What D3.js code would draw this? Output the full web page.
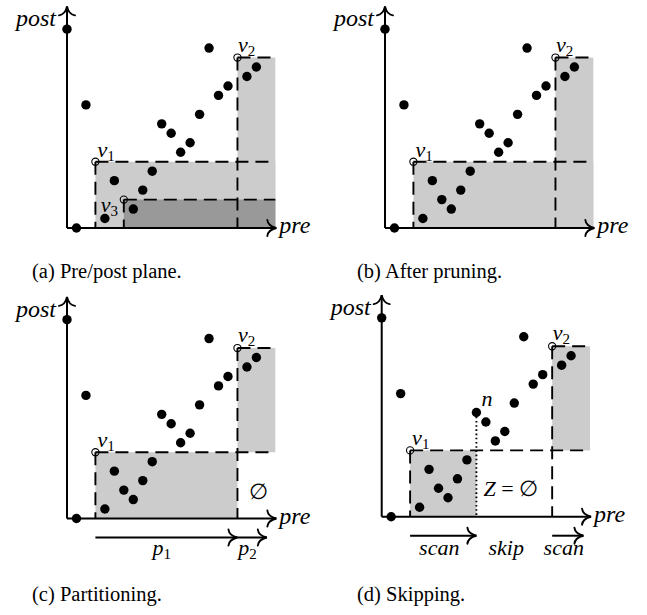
<!DOCTYPE html>
<html>
<head>
<meta charset="utf-8">
<script src="https://cdn.jsdelivr.net/npm/d3@7"></script>
<style>
  body { margin: 0; background: #fff; }
</style>
</head>
<body>
<svg id="chart" width="647" height="615" font-family="'Liberation Serif', 'Times New Roman', Times, serif"></svg>
<script>
// tree nodes in the pre/post plane
const preVals  = [0, 1, 2, 3, 4, 5, 6, 7, 8, 9, 10, 11, 12, 13, 14, 15, 16, 17, 18, 19, 20];
const postVals = [21, 0, 13, 7, 1, 5, 3, 2, 4, 6, 11, 10, 8, 9, 12, 19, 14, 15, 18, 16, 17];

// special nodes (index into the arrays above)
const V1 = 3, V2 = 18, V3 = 6, N = 10;

const captions = ["(a) Pre/post plane.", "(b) After pruning.", "(c) Partitioning.", "(d) Skipping."];

const PRE_MAX = 22, POST_MAX = 23.4;
const step = 9.47;
const SERIF = "'Liberation Serif', 'Times New Roman', Times, serif";

const svg = d3.select("#chart");

// panel origins (axis corner) in page pixels
const panels = [
  {id: "a", ox: 67,    oy: 228,   cap: [32, 278]},
  {id: "b", ox: 385,   oy: 228,   cap: [357, 278]},
  {id: "c", ox: 67,    oy: 518.5, cap: [32, 601]},
  {id: "d", ox: 381.7, oy: 516.7, cap: [357, 601]}
];

// latex style "to" arrow head, tip at 0,0 pointing right
const headPath = "M-9,-8 C-8.5,-3 -3,-0.7 0,0 C-3,0.7 -8.5,3 -9,8";

function arrowHead(g, x, y, angle) {
  g.append("path")
    .attr("d", headPath)
    .attr("transform", "translate(" + x + "," + y + ") rotate(" + angle + ")")
    .attr("fill", "none")
    .attr("stroke", "#000")
    .attr("stroke-width", 1.9)
    .attr("stroke-linecap", "round");
}

function mathText(g, x, y, s, size) {
  return g.append("text")
    .attr("x", x).attr("y", y)
    .attr("font-family", SERIF)
    .attr("font-style", "italic")
    .attr("font-size", size || 22)
    .text(s);
}

function subLabel(g, x, y, main, sub, size) {
  let t = g.append("text").attr("x", x).attr("y", y)
    .attr("font-family", SERIF)
    .attr("font-size", size || 22);
  t.append("tspan").attr("font-style", "italic").text(main);
  t.append("tspan").attr("font-size", 15).attr("dy", 4).text(sub);
}

panels.forEach((p) => {
  let g = svg.append("g");
  let x = d3.scaleLinear().domain([0, PRE_MAX]).range([p.ox, p.ox + PRE_MAX * step]);
  let y = d3.scaleLinear().domain([0, PRE_MAX]).range([p.oy, p.oy - PRE_MAX * step]);

  let pre = (i) => x(preVals[i]);
  let post = (i) => y(postVals[i]);

  // shaded regions: [pre0, pre1, post0, post1, colour]
  let rects = [];
  if (p.id == "a" || p.id == "b") {
    rects.push([preVals[V1], PRE_MAX, 0, postVals[V1], "#cccccc"]);
    rects.push([preVals[V2], PRE_MAX, 0, postVals[V2], "#cccccc"]);
    if (p.id == "a") rects.push([preVals[V3], PRE_MAX, 0, postVals[V3], "#999999"]);
  } else if (p.id == "c") {
    rects.push([preVals[V1], preVals[V2], 0, postVals[V1], "#cccccc"]);
    rects.push([preVals[V2], PRE_MAX, postVals[V1], postVals[V2], "#cccccc"]);
  } else {
    rects.push([preVals[V1], preVals[N], 0, postVals[V1], "#cccccc"]);
    rects.push([preVals[V2], PRE_MAX, postVals[V1], postVals[V2], "#cccccc"]);
  }
  g.selectAll("rect.shade")
    .data(rects)
    .enter().append("rect")
    .attr("class", "shade")
    .attr("x", (d) => x(d[0]))
    .attr("width", (d) => x(d[1]) - x(d[0]))
    .attr("y", (d) => y(d[3]))
    .attr("height", (d) => y(d[2]) - y(d[3]))
    .attr("fill", (d) => d[4]);

  // dashed query lines from each context node
  let ctx = p.id == "a" ? [V1, V2, V3] : [V1, V2];
  let lines = [];
  ctx.forEach((i) => {
    lines.push([preVals[i], postVals[i], PRE_MAX, postVals[i]]);
    lines.push([preVals[i], postVals[i], preVals[i], 0]);
  });
  g.selectAll("line.dash")
    .data(lines)
    .enter().append("line")
    .attr("class", "dash")
    .attr("x1", (d) => x(d[0])).attr("y1", (d) => y(d[1]))
    .attr("x2", (d) => x(d[2])).attr("y2", (d) => y(d[3]))
    .attr("stroke", "#000")
    .attr("stroke-width", 1.9)
    .attr("stroke-dasharray", "13,7");

  if (p.id == "d") {
    g.append("line")
      .attr("x1", pre(N)).attr("y1", post(N))
      .attr("x2", pre(N)).attr("y2", y(0))
      .attr("stroke", "#000")
      .attr("stroke-width", 1.9)
      .attr("stroke-dasharray", "1.6,2.6");
  }

  // axes
  g.append("line")
    .attr("x1", x(0)).attr("y1", y(0))
    .attr("x2", x(PRE_MAX) + 1).attr("y2", y(0))
    .attr("stroke", "#000").attr("stroke-width", 2);
  g.append("line")
    .attr("x1", x(0)).attr("y1", y(0))
    .attr("x2", x(0)).attr("y2", y(POST_MAX))
    .attr("stroke", "#000").attr("stroke-width", 2);
  arrowHead(g, x(PRE_MAX) + 1, y(0), 0);
  arrowHead(g, x(0), y(POST_MAX), -90);

  mathText(g, x(0) - 11, y(POST_MAX) + 20, "post", 24).attr("text-anchor", "end");
  mathText(g, x(PRE_MAX) + 4, y(0) + 5, "pre", 24);

  // nodes
  let open = p.id == "a" ? [V1, V2, V3] : [V1, V2];
  g.selectAll("circle.node")
    .data(preVals.map((d, i) => i))
    .enter().append("circle")
    .attr("class", "node")
    .attr("cx", (i) => pre(i))
    .attr("cy", (i) => post(i))
    .attr("r", (i) => open.includes(i) ? 3.6 : 4.7)
    .attr("fill", (i) => open.includes(i) ? "none" : "#000")
    .attr("stroke", "#000")
    .attr("stroke-width", (i) => open.includes(i) ? 1.1 : 0);

  subLabel(g, pre(V1) + 2, post(V1) - 5, "v", "1");
  subLabel(g, pre(V2) + 0.5, post(V2) - 6, "v", "2");
  if (p.id == "a") subLabel(g, pre(V3) - 23, post(V3) + 12, "v", "3");

  if (p.id == "c") {
    g.append("text")
      .attr("x", x(preVals[V2]) + 21).attr("y", y(0) - 20)
      .attr("text-anchor", "middle")
      .attr("font-family", SERIF).attr("font-size", 22)
      .text("\u2205");
    // partition arrows
    let parts = [[preVals[V1], preVals[V2], "p", "1"], [preVals[V2], 21.1, "p", "2"]];
    parts.forEach((d) => {
      let ay = y(0) + 19;
      g.append("line")
        .attr("x1", x(d[0])).attr("y1", ay)
        .attr("x2", x(d[1])).attr("y2", ay)
        .attr("stroke", "#000").attr("stroke-width", 2);
      arrowHead(g, x(d[1]), ay, 0);
      let cx = (x(d[0]) + x(d[1])) / 2 - 14;
      subLabel(g, cx, y(0) + 36, d[2], d[3]);
    });
  }

  if (p.id == "d") {
    mathText(g, pre(N) + 5, post(N) - 7, "n", 22);
    let t = g.append("text")
      .attr("x", pre(N) + 7).attr("y", y(0) - 21)
      .attr("font-family", SERIF)
      .attr("font-size", 22);
    t.append("tspan").attr("font-style", "italic").text("Z");
    t.append("tspan").text(" = \u2205");

    let ay = y(0) + 19;
    let scans = [[preVals[V1], preVals[N], "scan"], [preVals[V2], 21.3, "scan"]];
    scans.forEach((d) => {
      g.append("line")
        .attr("x1", x(d[0])).attr("y1", ay)
        .attr("x2", x(d[1])).attr("y2", ay)
        .attr("stroke", "#000").attr("stroke-width", 2);
      arrowHead(g, x(d[1]), ay, 0);
      mathText(g, (x(d[0]) + x(d[1])) / 2 - 4, y(0) + 38, d[2], 22)
        .attr("text-anchor", "middle");
    });
    mathText(g, (x(preVals[N]) + x(preVals[V2])) / 2 - 8, y(0) + 38, "skip", 22)
      .attr("text-anchor", "middle");
  }

  // caption
  g.append("text")
    .attr("x", p.cap[0]).attr("y", p.cap[1])
    .attr("font-family", SERIF)
    .attr("font-size", 20.5)
    .text(captions["abcd".indexOf(p.id)]);
});
</script>
</body>
</html>
